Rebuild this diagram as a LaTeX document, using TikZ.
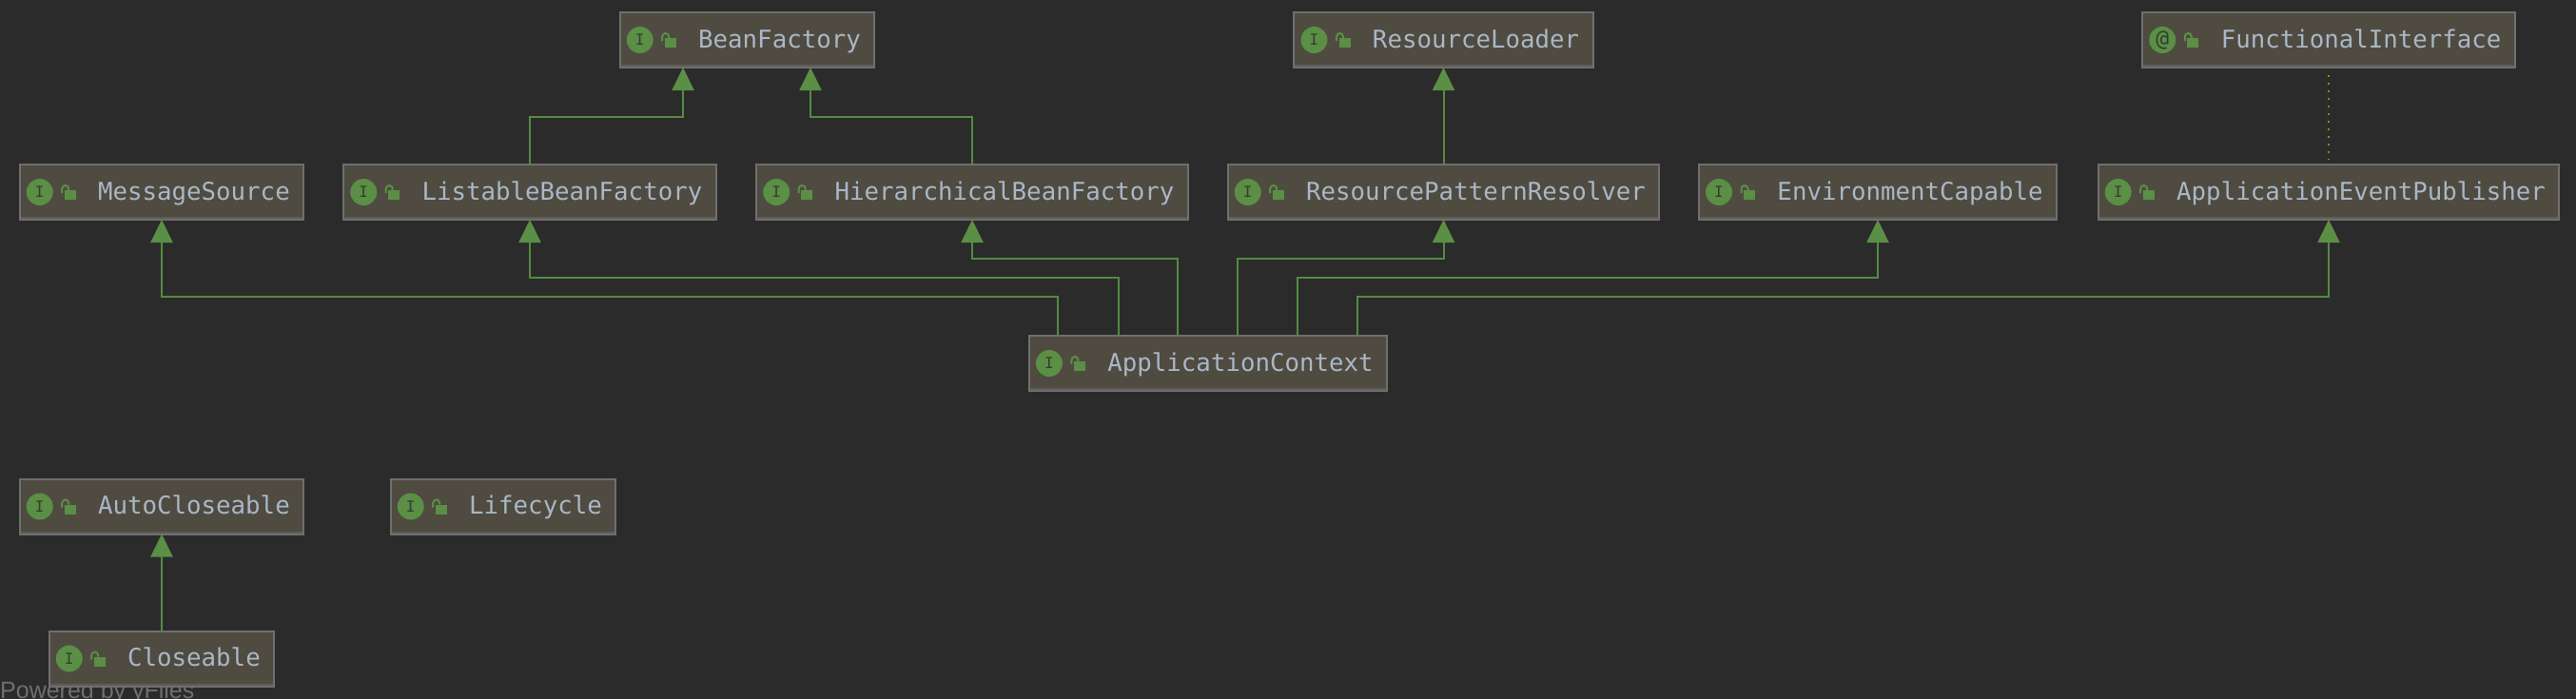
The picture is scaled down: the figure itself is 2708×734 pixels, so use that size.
\documentclass[tikz,border=0pt]{standalone}
\usepackage{fontspec}
\usepackage{xcolor}
\usetikzlibrary{arrows.meta}
\newfontfamily\monofam{DejaVu Sans Mono}
\newfontfamily\sansfam{Liberation Sans}
\definecolor{canvas}{HTML}{2B2B2B}
\definecolor{boxfill}{HTML}{4F4B41}
\definecolor{boxline}{HTML}{6F6F6F}
\definecolor{boxedge}{HTML}{5E5C56}
\definecolor{leaf}{HTML}{5A8F45}
\definecolor{wire}{HTML}{548A44}
\definecolor{glyph}{HTML}{A9B7C6}
\definecolor{dots}{HTML}{8C8C00}
\begin{document}
\begin{tikzpicture}[x=1pt,y=1pt,
block/.style = {draw=boxline, fill=boxfill, rectangle, line width=2pt, inner sep=0pt, outer sep=0pt, minimum height=58pt, text=glyph, text height=20pt, text depth=4pt, font=\monofam\fontsize{25.75}{30}\selectfont, execute at begin node={\hspace*{82.5pt}}, execute at end node={\hspace*{14.5pt}}},
badge/.style = {circle, fill=leaf, inner sep=0pt, minimum size=28pt, text=canvas!80!leaf, font=\monofam\fontsize{16}{18}\selectfont},
wired/.style = {draw=wire, line width=2pt},
>={Triangle[width=23pt,length=24pt,color=leaf]}
]

    \useasboundingbox (0,0) rectangle (2708,-734);
    \fill [canvas] (-5,5) rectangle (2713,-739);

    \node [anchor=base west, inner sep=0pt, text=boxline, font=\sansfam\fontsize{25}{28}\selectfont] (powered) at (0,-734) {Powered by yFiles};

    \node [block] (source) at (170,-202) {MessageSource};
    \node [block, right of=source, node distance=387pt] (listable) {ListableBeanFactory};
    \node [block, right of=listable, node distance=465pt] (hierarchical) {HierarchicalBeanFactory};
    \node [block, right of=hierarchical, node distance=495.5pt] (pattern) {ResourcePatternResolver};
    \node [block, right of=pattern, node distance=456.5pt] (environment) {EnvironmentCapable};
    \node [block, right of=environment, node distance=474pt] (publisher) {ApplicationEventPublisher};

    \node [block, above of=listable, node distance=160pt, xshift=228.5pt] (bean) {BeanFactory};
    \node [block, above of=pattern, node distance=160pt] (loader) {ResourceLoader};
    \node [block, above of=publisher, node distance=160pt] (functional) {FunctionalInterface};

    \node [block] (context) at (1270,-382) {ApplicationContext};

    \node [block, below of=source, node distance=330.5pt] (autocloseable) {AutoCloseable};
    \node [block, right of=autocloseable, node distance=359pt] (lifecycle) {Lifecycle};
    \node [block, below of=autocloseable, node distance=160pt] (closeable) {Closeable};

    \foreach \n/\t in {source/I,listable/I,hierarchical/I,pattern/I,environment/I,publisher/I,bean/I,loader/I,functional/{\fontsize{23}{23}\selectfont @},context/I,autocloseable/I,lifecycle/I,closeable/I} {
        \draw [boxedge, line width=2pt] ([shift={(1pt,2pt)}]\n.south west) -- ([shift={(-1pt,2pt)}]\n.south east);
        \node [badge] (\n-badge) at ([xshift=21pt]\n.west) {\t};
        \fill [leaf] ([shift={(47pt,2pt)}]\n.west) rectangle ([shift={(59pt,-8pt)}]\n.west);
        \draw [leaf, line width=2pt] ([shift={(44.5pt,-1pt)}]\n.west) -- ++(0,4.5) arc (180:0:3.5pt) -- ++(0,-1.5);
    }

    \draw [wired, ->] ([xshift=-158pt]context.north) -- ++(0,41) -| (source.south);
    \draw [wired, ->] ([xshift=-94pt]context.north) -- ++(0,61) -| (listable.south);
    \draw [wired, ->] ([xshift=-32pt]context.north) -- ++(0,81) -| (hierarchical.south);
    \draw [wired, ->] ([xshift=31pt]context.north) -- ++(0,81) -| (pattern.south);
    \draw [wired, ->] ([xshift=94pt]context.north) -- ++(0,61) -| (environment.south);
    \draw [wired, ->] ([xshift=157pt]context.north) -- ++(0,41) -| (publisher.south);

    \draw [wired, ->] (listable.north) -- ++(0,50) -| ([xshift=-67.5pt]bean.south);
    \draw [wired, ->] (hierarchical.north) -- ++(0,50) -| ([xshift=66.5pt]bean.south);
    \draw [wired, ->] (pattern.north) -- (loader.south);
    \draw [wired, ->] (closeable.north) -- (autocloseable.south);

    \draw [dots, line width=1.5pt, dash pattern=on 1.5pt off 6.5pt, shorten <=8pt, shorten >=5pt] (functional.south) -- (publisher.north);

\end{tikzpicture}
\end{document}
